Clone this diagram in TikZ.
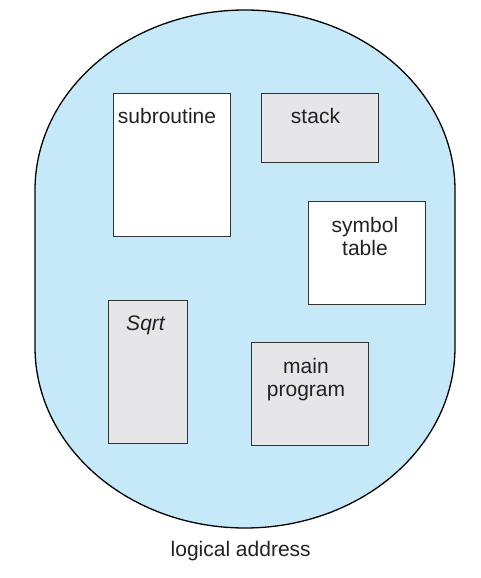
\documentclass[tikz,border=0pt]{standalone}
\usepackage{fontspec}
\setmainfont{Liberation Sans}
\definecolor{spaceblue}{HTML}{C6E9FA}
\definecolor{boxgray}{HTML}{E6E6E8}
\definecolor{edgegray}{HTML}{333333}
\definecolor{txt}{HTML}{222222}
\begin{document}
\begin{tikzpicture}[x=1pt,y=-1pt,
  seg/.style={draw=edgegray,line width=1.8pt,inner sep=0pt,outer sep=0pt,anchor=north west},
  lbl/.style={text=txt,inner sep=0pt,font=\fontsize{21}{23}\selectfont,align=center},
]
\useasboundingbox (0,0) rectangle (480,578);
% logical address space outline
\draw[fill=spaceblue,draw=black,line width=1.3pt]
  (35,190) arc[start angle=180,end angle=0,x radius=210pt,y radius=180pt]
  -- (455,347) arc[start angle=0,end angle=-180,x radius=210pt,y radius=181pt]
  -- cycle;
% segments
\node[seg,fill=white,minimum width=117pt,minimum height=143pt] (sub) at (113.5,93.5) {};
\node[seg,fill=boxgray,minimum width=117pt,minimum height=69pt] (stk) at (261.5,93.5) {};
\node[seg,fill=white,minimum width=117pt,minimum height=103pt] (sym) at (308.5,201.5) {};
\node[seg,fill=boxgray,minimum width=79pt,minimum height=143pt] (sqr) at (108.5,300.5) {};
\node[seg,fill=boxgray,minimum width=117pt,minimum height=103pt] (mnp) at (251.5,342.5) {};
% labels
\node[lbl,anchor=base] (subl) at (167,123) {subroutine};
\node[lbl,anchor=base] (stkl) at (315.5,123) {stack};
\node[lbl,anchor=base] (syml) at (365,255) {symbol\\table};
\node[lbl,anchor=base] (sqrl) at (145.5,330) {\itshape Sqrt};
\node[lbl,anchor=base] (mnpl) at (306,396) {main\\program};
\node[lbl,anchor=base] (cap) at (240.7,556) {logical address};
\end{tikzpicture}
\end{document}
